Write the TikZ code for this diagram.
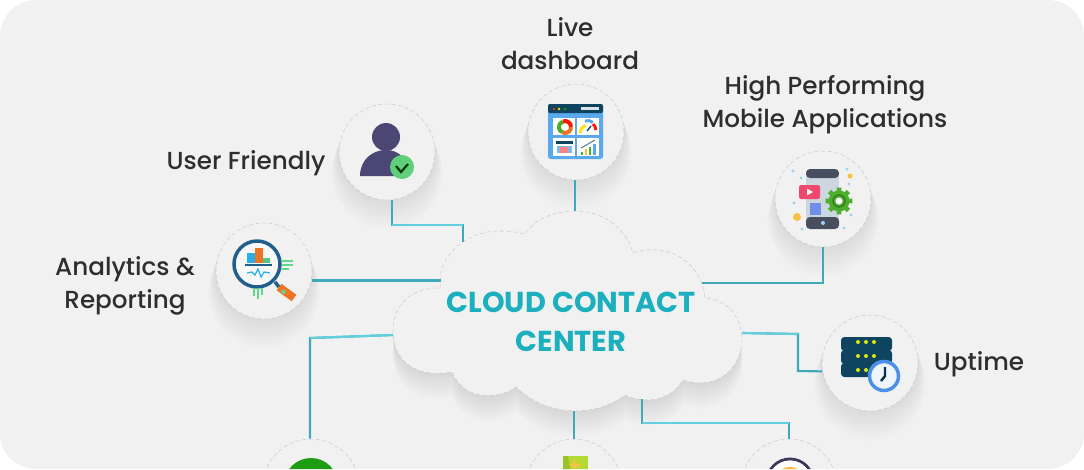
\documentclass[tikz,border=0pt]{standalone}
\usepackage{fontspec}
\setmainfont{Poppins}
\newfontfamily\labelfont{Poppins Medium}
\usetikzlibrary{calc}
\definecolor{bgc}{HTML}{F1F1F1}
\definecolor{rimc}{HTML}{CCCCCC}
\definecolor{linec}{HTML}{3FA8B9}
\definecolor{lightc}{HTML}{62D0DC}
\definecolor{titlec}{HTML}{1CB0BF}
\definecolor{labelc}{HTML}{2E2E2E}
\definecolor{navy}{HTML}{0F4460}
\definecolor{userc}{HTML}{4B4673}
\definecolor{okc}{HTML}{5FCF7A}
\definecolor{panelc}{HTML}{5AA9EC}
\definecolor{lensc}{HTML}{1F5F8B}
\definecolor{orangec}{HTML}{EE7322}
\definecolor{greenc}{HTML}{62D98A}
\definecolor{skyc}{HTML}{25B0EC}
\definecolor{phonec}{HTML}{474F5F}
\definecolor{phonebody}{HTML}{CBD6DF}
\definecolor{gearc}{HTML}{4CAE2C}
\definecolor{yelc}{HTML}{F5C344}
\definecolor{dotc}{HTML}{9CD3F0}
\definecolor{clockc}{HTML}{4A8FE8}
\definecolor{cardc}{HTML}{F0476F}
\definecolor{squarec}{HTML}{6F8FE8}
\definecolor{leafc}{HTML}{B5D934}
\definecolor{leafd}{HTML}{9BC22D}
\definecolor{roundc}{HTML}{1F9D12}
\tikzset{
  x=0.75pt,y=-0.75pt,
  badge/.style={circle,minimum size=72pt,inner sep=0pt,fill=bgc,draw=rimc,line width=0.4pt,densely dashed},
  label/.style={text=labelc,align=center,font=\labelfont\fontsize{18.5}{24.75}\selectfont,inner sep=0pt},
  title/.style={text=titlec,align=center,font=\fontsize{21.6}{29.25}\selectfont\bfseries,inner sep=0pt},
  conn/.style={draw=linec,line width=1.6pt,line join=miter},
  connl/.style={draw=lightc,line width=1.6pt,line join=miter},
  cloudedge/.style={fill=bgc,draw=rimc,line width=0.4pt,densely dashed},
}
\newcommand{\softdisc}[2]{%
  \foreach \w in {1,...,22}{\fill[black,opacity=0.0035] ($(#1,#2)+(0,\w)$) circle ({48+0.35*\w});}%
}
\newcommand{\cloudshape}{%
  (440,288) -- (441,272) .. controls (447,248) and (475,222) .. (525,234)
  .. controls (535,218) and (556,211) .. (575,211)
  .. controls (605,211) and (627,230) .. (633,253)
  .. controls (660,243) and (700,255) .. (705,298)
  .. controls (730,300) and (742,320) .. (742,340)
  .. controls (742,365) and (720,392) .. (683,380)
  .. controls (672,400) and (645,405) .. (625,395)
  .. controls (600,415) and (550,420) .. (516,387)
  .. controls (495,402) and (462,398) .. (452,372)
  .. controls (420,378) and (393,365) .. (393,330)
  .. controls (393,305) and (412,287) .. (440,288) -- cycle}
\begin{document}
\begin{tikzpicture}
\useasboundingbox (0,0) rectangle (1084,469);
\fill[white] (0,0) rectangle (1084,469);
\clip[rounded corners=27pt] (0,0) rectangle (1084,469);
\fill[bgc] (0,0) rectangle (1084,469);
% shadows
\softdisc{387}{152}\softdisc{576}{132}\softdisc{823}{199}\softdisc{264}{271}\softdisc{870}{363}
\softdisc{311}{487}\softdisc{574}{487}\softdisc{789}{487}
\foreach \w in {1,...,26}{
  \path[fill=black,fill opacity=0.003,draw=black,draw opacity=0.0015,line width=0.5*\w pt,line join=round,shift={(0,\w)}] \cloudshape;
}
% cloud
\path[cloudedge] \cloudshape;
\coordinate (cUser) at (463,242);
\coordinate (cDash) at (575,211);
\coordinate (cMob) at (702,283);
\coordinate (cAna) at (441,280.5);
\coordinate (cUp) at (742,333);
\coordinate (cBL) at (393,335);
\coordinate (cBM) at (574,411);
\coordinate (cBR) at (642,399);
\coordinate (eUser) at (392,225);
\coordinate (eUp1) at (798,371);
\coordinate (eUp2) at (798,334);
\coordinate (eBL) at (310,338);
\coordinate (eBR) at (642,423);
\node[title] (cloudtext) at (571,321.5) {CLOUD CONTACT\\CENTER};
% badges
\node[badge] (user) at (387,152) {};
\node[badge] (dash) at (576,132) {};
\node[badge] (mobile) at (823,199) {};
\node[badge] (analytics) at (264,271) {};
\node[badge] (uptime) at (870,363) {};
\node[badge] (bl) at (311,487) {};
\node[badge] (bm) at (574,487) {};
\node[badge] (br) at (789,487) {};
% connectors
\draw[conn] (user.-84) -- (user.-84 |- eUser) -- (cUser |- eUser) -- (cUser);
\draw[connl] (user.-84 |- eUser) -- (cUser |- eUser);
\draw[conn] (dash.south -| cDash) -- (cDash);
\draw[conn] (mobile.south) -- (mobile.south |- cMob) -- (cMob);
\draw[conn] (analytics.-10 |- cAna) -- (cAna);
\draw[conn] (uptime.190) -- (eUp1) -- (eUp2) -- (cUp);
\draw[connl] (eUp2) -- (cUp);
\draw[conn] (bl.north -| eBL) -- (eBL) -- (cBL);
\draw[connl] (eBL) -- (cBL);
\draw[conn] (bm.north) -- (cBM);
\draw[conn] (br.north) -- (br.north |- eBR) -- (eBR) -- (cBR);
\draw[connl] (br.north |- eBR) -- (eBR);
% labels
\node[label] (lLive) at (570,43.5) {Live\\dashboard};
\node[label] (lHigh) at (825,104.5) {High Performing\\Mobile Applications};
\node[label] (lUser) at (246,163) {User Friendly};
\node[label] (lAna) at (125,286) {Analytics \&\\Reporting};
\node[label] (lUp) at (979,364) {Uptime};
% user icon
\fill[userc] (386,137) circle (14);
\fill[userc] (360,176) .. controls (360,160) and (372,150) .. (386,150) .. controls (400,150) and (408,160) .. (410,176) -- cycle;
\fill[okc] (402,167) circle (12);
\draw[black!80!green,line width=1.6pt] (396,166) -- (401,172) -- (408,164);
% dashboard icon
\fill[panelc,rounded corners=2pt] (548,104) rectangle (603,159);
\fill[navy,rounded corners=1.5pt] (548,104) rectangle (603,113);
\foreach \xx/\cc in {554/red!70!orange,559/yellow!80!orange,565/green!70!black}{\fill[\cc] (\xx,109) circle (1.3);}
\fill[white!85!navy] (581,107) rectangle (599,110);
\fill[white] (553,118) rectangle (575,135);
\fill[white] (577,118) rectangle (599,135);
\fill[white] (553,138) rectangle (575,156);
\fill[white] (577,138) rectangle (599,156);
\draw[line width=3pt,orangec] (565,127) ++(0:6) arc (0:120:6);
\draw[line width=3pt,gearc] (565,127) ++(120:6) arc (120:250:6);
\draw[line width=3pt,red!80!orange] (565,127) ++(250:6) arc (250:360:6);
\draw[line width=2.2pt,yellow!85!orange] (580,133) arc (180:250:8);
\draw[line width=2.2pt,panelc] (585,121) arc (250:310:8);
\draw[line width=2.2pt,red!80!orange] (593,124) arc (310:360:8);
\draw[navy,line width=1pt] (587,131) -- (591,126);
\fill[navy] (556,141) rectangle (573,144);
\fill[panelc!80!white] (557,146) rectangle (572,153);
\fill[red!50!white] (560,147) rectangle (568,153);
\fill[gearc] (581,152) rectangle (583,155);
\fill[yelc] (585,149) rectangle (587,155);
\fill[gearc] (589,147) rectangle (591,155);
\fill[panelc] (593,144) rectangle (596,155);
\draw[navy!70!white,line width=.8pt] (581,148) -- (595,140);
% analytics icon
\fill[white!40!bgc] (257,264) circle (22);
\fill[skyc] (247,253) rectangle (255,263);
\fill[orangec] (255,248) rectangle (263,263);
\fill[greenc!90!black] (263,258) rectangle (270,263);
\draw[lensc,line width=1.2pt] (245,265) -- (272,265);
\draw[skyc,line width=.9pt] (247,273) -- (252,272) -- (255,275) -- (258,269) -- (261,277) -- (264,272) -- (270,273);
\draw[lensc,line width=2.6pt] (257,264) circle (23);
\draw[lensc,line width=2.6pt] (275,282) -- (279,287);
\draw[orangec,line width=6pt] (279,287) -- (294,298);
\draw[greenc,line width=2.6pt] (282,290.5) -- (285,293);
\foreach \yy/\ee in {261/293,265/293,269/289}{\draw[greenc,line width=.9pt] (282,\yy) -- (\ee,\yy);}
\foreach \xx/\ee in {254/296,258/299,262/295}{\draw[greenc,line width=.9pt] (\xx,288) -- (\xx,\ee);}
% mobile icon
\fill[phonebody] (806,175) rectangle (839,222);
\fill[phonec,rounded corners=3pt] (806,169) rectangle (839,178);
\fill[phonec,rounded corners=3pt] (806,217) rectangle (839,229);
\fill[dotc] (823,223) circle (2);
\fill[cardc,rounded corners=1.5pt] (799,185) rectangle (820,199);
\fill[white] (807,188.5) -- (813,192) -- (807,195.5) -- cycle;
\fill[squarec] (810,203) rectangle (821,215);
\foreach \a in {0,45,...,315}{\fill[gearc,shift={(839,201)}] ({\a-14}:9) -- ({\a-10}:13.5) -- ({\a+10}:13.5) -- ({\a+14}:9) -- cycle;}
\fill[gearc] (839,201) circle (10.5);
\draw[gearc!70!black,line width=1pt] (839,201) circle (6);
\fill[white] (839,201) circle (3.5);
\fill[yelc] (797,217) circle (4);
\fill[yelc] (850,176) circle (2.5);
\foreach \dx/\dy in {793/171,801/178,847/169,849/184,794/203,851/215,844/228,802/229}{\fill[dotc] (\dx,\dy) circle (1.7);}
% uptime icon
\foreach \yt/\yb in {337/351,350/364,363/377}{\fill[navy,rounded corners=2.5pt] (841,\yt) rectangle (892,\yb);}
\foreach \dx in {858,866,874}{\foreach \dy in {342,356,370}{\fill[yellow!85!green] (\dx,\dy) circle (2);}}
\fill[bgc] (884,376) circle (16);
\draw[clockc,line width=2.6pt] (884,376) circle (14.5);
\fill[white!90!clockc] (884,376) circle (11.5);
\draw[navy!70!black,line width=1.8pt] (885,367) -- (885,376) -- (881,381);
% bottom icons
\fill[roundc] (311,485) circle (27);
\fill[leafc] (563,456) rectangle (588,480);
\fill[leafd] (563,456) -- (568,456) -- (572,480) -- (563,480) -- cycle;
\fill[yelc] (575,459) -- (577,463) -- (581,465) -- (577,467) -- (575,471) -- (573,467) -- (569,465) -- (573,463) -- cycle;
\draw[userc!80!black,line width=2.2pt] (790,482) circle (23);
\fill[white] (790,482) circle (21.5);
\fill[yelc!80!orange] (790,482) circle (15);
\end{tikzpicture}
\end{document}
